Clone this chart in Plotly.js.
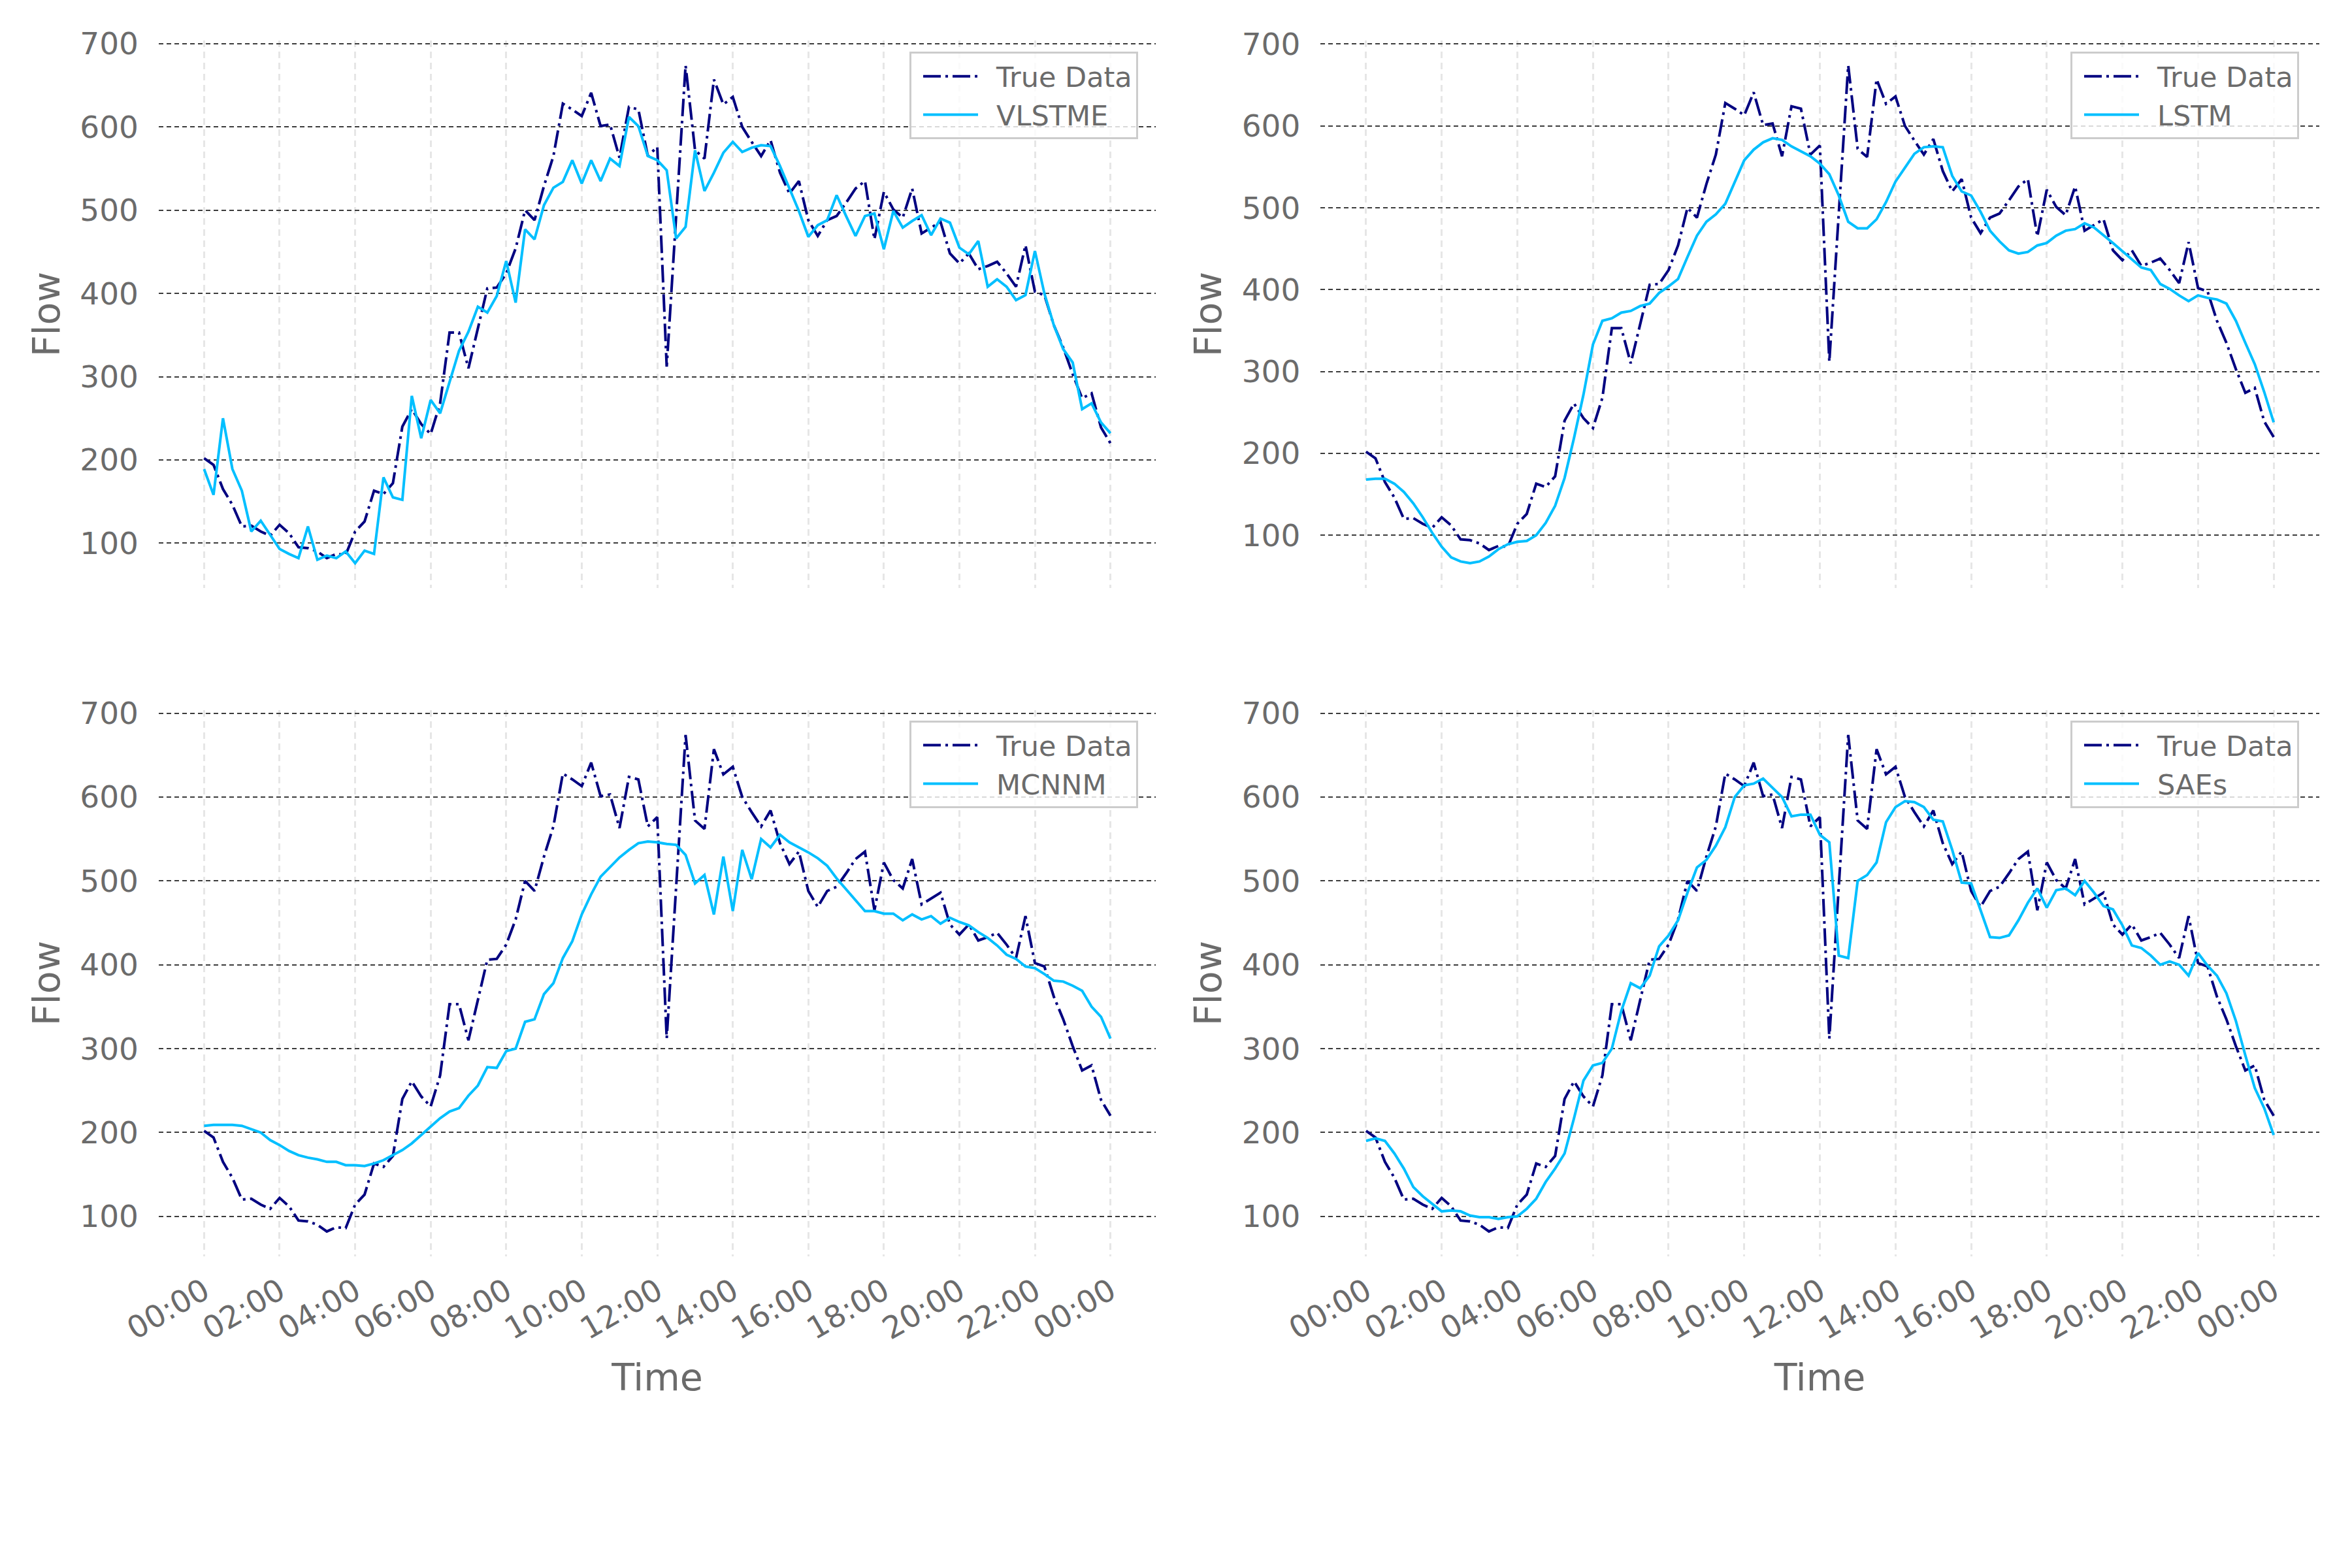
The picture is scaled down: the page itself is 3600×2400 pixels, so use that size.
<!DOCTYPE html>
<html>
<head>
<meta charset="utf-8">
<script src="https://cdn.plot.ly/plotly-3.0.1.min.js"></script>
<style>body{margin:0;background:#fff}</style>
</head>
<body>
<div id="chart" style="width:3600px;height:2400px"></div>
<script>
// tick labels, one every 2 hours
var timeLabels = ["00:00", "02:00", "04:00", "06:00", "08:00", "10:00", "12:00",
    "14:00", "16:00", "18:00", "20:00", "22:00", "00:00"]

// 15-minute flow readings over one day
var trueData = [202, 194, 165, 146, 120, 121, 114, 109, 122, 112,
    95, 94, 90, 82, 87, 86, 114, 126, 163, 159,
    172, 240, 261, 243, 231, 268, 353, 353, 310, 358,
    406, 407, 424, 454, 500, 488, 529, 565, 628, 621,
    613, 641, 601, 603, 563, 624, 621, 565, 576, 312,
    490, 674, 572, 562, 657, 627, 636, 600, 582, 565,
    584, 545, 520, 535, 488, 469, 488, 493, 509, 526,
    535, 465, 522, 501, 491, 526, 472, 479, 486, 448,
    436, 448, 429, 433, 438, 424, 408, 458, 402, 398,
    362, 335, 303, 274, 280, 239, 220]

var vlstme = [189, 158, 250, 189, 163, 114, 127, 110, 93, 87,
    82, 120, 80, 85, 82, 90, 76, 91, 87, 179,
    155, 152, 277, 226, 272, 256, 294, 331, 354, 384,
    377, 397, 439, 389, 477, 465, 506, 527, 534, 560,
    532, 560, 535, 562, 553, 612, 601, 565, 560, 548,
    466, 480, 572, 523, 545, 569, 582, 570, 575, 578,
    577, 553, 526, 499, 468, 482, 488, 518, 493, 469,
    493, 496, 453, 499, 479, 487, 494, 470, 490, 485,
    455, 447, 463, 408, 417, 408, 392, 398, 451, 400,
    362, 333, 317, 261, 268, 245, 232]

var lstm = [168, 169, 169, 163, 153, 139, 122, 103, 86, 73,
    68, 66, 68, 74, 83, 89, 92, 93, 100, 115,
    136, 170, 219, 272, 333, 362, 365, 372, 374, 380,
    383, 396, 404, 413, 440, 466, 483, 492, 505, 532,
    558, 571, 580, 585, 583, 575, 569, 563, 554, 541,
    515, 483, 475, 475, 486, 507, 532, 549, 566, 574,
    575, 574, 539, 520, 515, 495, 472, 459, 448, 444,
    446, 454, 457, 466, 472, 474, 481, 476, 467, 457,
    447, 437, 427, 424, 407, 401, 393, 386, 393, 390,
    388, 383, 362, 335, 309, 275, 238]

var mcnnm = [208, 209, 209, 209, 208, 204, 200, 191, 185, 178,
    173, 170, 168, 165, 165, 161, 161, 160, 163, 167,
    173, 179, 187, 197, 208, 217, 225, 229, 244, 256,
    278, 277, 297, 300, 332, 335, 365, 378, 408, 428,
    460, 484, 505, 516, 528, 537, 545, 547, 546, 544,
    543, 531, 497, 507, 460, 529, 464, 537, 502, 550,
    540, 555, 546, 540, 534, 527, 518, 503, 490, 477,
    464, 464, 461, 461, 453, 460, 454, 458, 449, 456,
    451, 447, 439, 432, 423, 412, 407, 398, 396, 389,
    381, 380, 375, 369, 350, 338, 312]

var saes = [190, 193, 190, 175, 157, 135, 124, 115, 106, 107,
    106, 101, 99, 99, 97, 99, 100, 109, 121, 141,
    157, 175, 217, 262, 280, 283, 300, 345, 378, 372,
    387, 422, 435, 453, 486, 516, 525, 542, 564, 600,
    614, 616, 622, 611, 600, 577, 579, 579, 555, 546,
    411, 408, 500, 507, 522, 570, 588, 595, 594, 588,
    573, 571, 537, 498, 497, 465, 433, 432, 435, 453,
    474, 491, 468, 489, 491, 483, 500, 486, 470, 466,
    447, 423, 420, 411, 400, 404, 400, 387, 414, 399,
    387, 366, 333, 292, 253, 229, 197]

var modelNames = ["VLSTME", "LSTM", "MCNNM", "SAEs"]
var modelPreds = [vlstme, lstm, mcnnm, saes]

var minutes = trueData.map(function (v, i) { return i * 15 })
var tickMinutes = timeLabels.map(function (v, i) { return i * 120 })

var textColor = "#6b6b6b"
var fontFamily = "DejaVu Sans, Arial, sans-serif"

var xDomains = [[0.0675, 0.4914], [0.5615, 0.986], [0.0675, 0.4914], [0.5615, 0.986]]
var yDomains = [[0.625, 0.9742], [0.625, 0.9742], [0.1988, 0.5471], [0.1988, 0.5471]]
var legendPos = [[0.4839, 0.967], [0.9775, 0.967], [0.4839, 0.5404], [0.9775, 0.5404]]

var traces = []
var layout = {
    width: 3600,
    height: 2400,
    margin: {t: 0, l: 0, r: 0, b: 0},
    paper_bgcolor: "#ffffff",
    plot_bgcolor: "#ffffff",
    font: {family: fontFamily, color: textColor},
    showlegend: true,
}

for (var k = 0; k < 4; k++) {
    var suffix = k === 0 ? "" : String(k + 1)
    var legendName = "legend" + suffix
    var pred = modelPreds[k]

    traces.push({
        type: "scatter",
        mode: "lines",
        x: minutes,
        y: trueData,
        name: "True Data",
        xaxis: "x" + suffix,
        yaxis: "y" + suffix,
        legend: legendName,
        line: {color: "#000080", width: 4, dash: "27px,7px,4px,7px"},
    })
    traces.push({
        type: "scatter",
        mode: "lines",
        x: minutes,
        y: pred,
        name: modelNames[k],
        xaxis: "x" + suffix,
        yaxis: "y" + suffix,
        legend: legendName,
        line: {color: "#00bfff", width: 4},
    })

    // matplotlib style autoscale: data limits plus 5% margin
    var lo = Math.min(Math.min.apply(null, trueData), Math.min.apply(null, pred))
    var hi = Math.max(Math.max.apply(null, trueData), Math.max.apply(null, pred))
    var pad = (hi - lo) * 0.05
    var bottomRow = k >= 2

    layout["xaxis" + suffix] = {
        domain: xDomains[k],
        anchor: "y" + suffix,
        range: [-72, 1512],
        tickvals: tickMinutes,
        ticktext: timeLabels,
        showticklabels: bottomRow,
        tickangle: -30,
        ticklabelstandoff: 16,
        tickfont: {size: 47, color: textColor},
        ticks: "",
        showgrid: true,
        gridcolor: "#e6e6e6",
        gridwidth: 3,
        griddash: "10px,7px",
        zeroline: false,
        showline: false,
        title: bottomRow ? {text: "Time", font: {size: 57, color: textColor}, standoff: 28} : {text: ""},
    }
    layout["yaxis" + suffix] = {
        domain: yDomains[k],
        anchor: "x" + suffix,
        range: [lo - pad, hi + pad],
        tick0: 0,
        dtick: 100,
        ticks: "",
        ticklabelstandoff: 30,
        tickfont: {size: 47, color: textColor},
        showgrid: true,
        gridcolor: "#3c3c3c",
        gridwidth: 2,
        griddash: "7px,5px",
        zeroline: false,
        showline: false,
        title: {text: "Flow", font: {size: 57, color: textColor}, standoff: 12},
    }
    layout[legendName] = {
        x: legendPos[k][0],
        y: legendPos[k][1],
        xanchor: "right",
        yanchor: "top",
        bgcolor: "rgba(255,255,255,0.8)",
        bordercolor: "#cccccc",
        borderwidth: 3,
        font: {size: 43, color: textColor},
        itemwidth: 120,
        tracegroupgap: 0,
    }
}

var gd = document.getElementById("chart")
Plotly.newPlot(gd, traces, layout, {staticPlot: true}).then(function () {
    // shorter legend line samples with a bit of left padding, like the original
    gd.querySelectorAll(".legendlines path").forEach(function (p) {
        p.setAttribute("d", "M18,0h84")
    })
})
</script>
</body>
</html>
